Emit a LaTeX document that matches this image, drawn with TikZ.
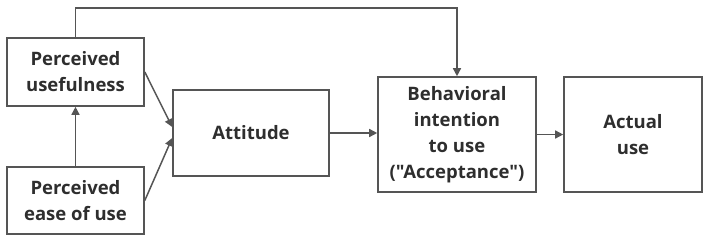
\documentclass[tikz,border=0pt]{standalone}
\usepackage{fontspec}
\setmainfont{Open Sans}[Ligatures=TeXOff]
\usetikzlibrary{arrows.meta,calc}
\definecolor{txt}{HTML}{2E2E2E}
\definecolor{ln}{HTML}{555555}
\begin{document}
\begin{tikzpicture}[x=1pt,y=-1pt,
  box/.style={draw=ln,line width=1.6pt,inner sep=0pt,align=center,text=txt,
    font=\fontsize{18.5}{26}\selectfont\bfseries},
  arr/.style={draw=ln,line width=1.5pt,-{Triangle[length=8pt,width=8pt]}}]
\useasboundingbox (0,0) rectangle (707,239);
\node[box,minimum width=137pt,minimum height=68pt] (PU) at (75.5,72) {Perceived\\usefulness};
\node[box,minimum width=137pt,minimum height=67pt] (PE) at (75.5,200.5) {Perceived\\ease of use};
\node[box,minimum width=156pt,minimum height=86pt] (AT) at (251,133) {Attitude};
\node[box,minimum width=158pt,minimum height=115pt] (BI) at (457,134.5) {Behavioral\\intention\\to use\\("Acceptance")};
\node[box,minimum width=138pt,minimum height=115pt] (AU) at (633,134.5) {Actual\\use};
\coordinate (a1) at ($(AT.west)+(0,-6)$);
\coordinate (a2) at ($(AT.west)+(0,5)$);
\draw[arr] (PU.east) -- (a1);
\draw[arr] (PE.east) -- (a2);
\draw[arr] (PE.north) -- (PU.south);
\draw[arr] (AT.east) -- (AT.east -| BI.west);
\draw[arr] (BI.east |- AU.west) -- (AU.west);
\draw[arr] (PU.north) -- ++(0,-29) -| (BI.north);
\end{tikzpicture}
\end{document}
